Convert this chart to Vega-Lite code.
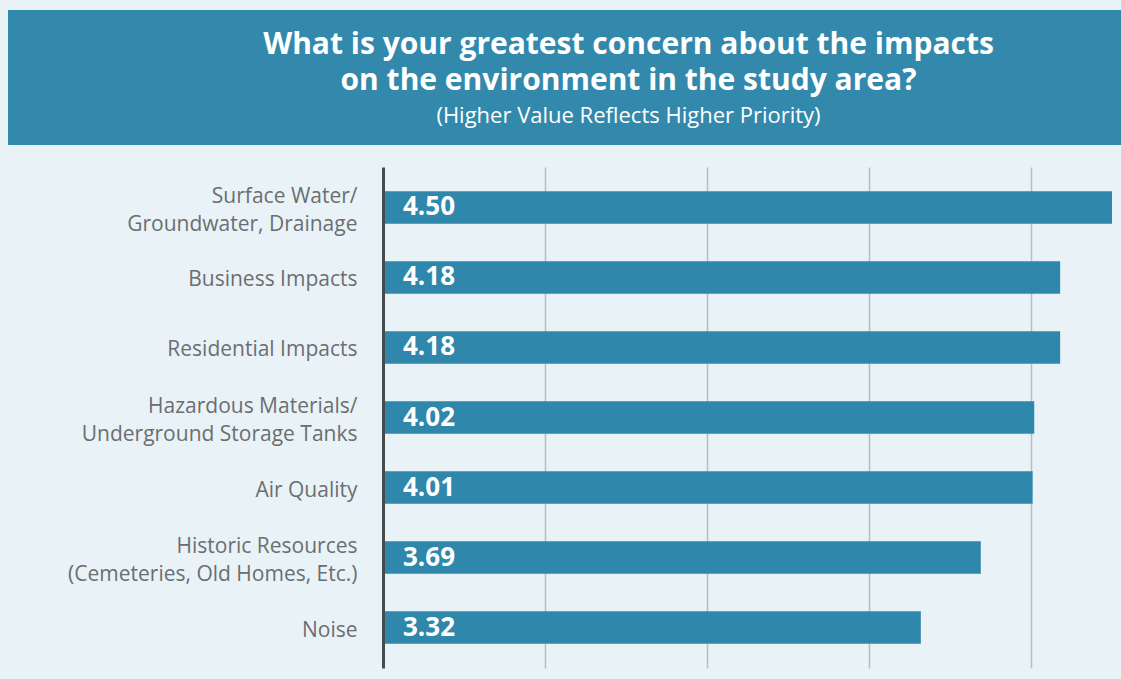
{
  "$schema": "https://vega.github.io/schema/vega-lite/v6.json",
  "background": "#e9f3f7",
  "padding": {"left": 8, "top": 10, "right": 0, "bottom": 11},
  "spacing": 22,
  "config": {"font": "Open Sans", "view": {"stroke": null}},
  "vconcat": [
    {
      "width": 1113,
      "height": 135,
      "view": {"fill": "#3389ac", "stroke": null},
      "data": {"values": [
        {"line": 1, "kind": "title", "text": "What is your greatest concern about the impacts"},
        {"line": 2, "kind": "title", "text": "on the environment in the study area?"},
        {"line": 3, "kind": "subtitle", "text": "(Higher Value Reflects Higher Priority)"}
      ]},
      "encoding": {
        "y": {"field": "line", "type": "ordinal", "scale": {"type": "point", "range": [35, 106], "padding": 0}, "axis": null},
        "text": {"field": "text"}
      },
      "layer": [
        {"transform": [{"filter": "datum.kind == 'title'"}], "mark": {"type": "text", "color": "white", "fontSize": 30, "fontWeight": "bold", "dx": 64}},
        {"transform": [{"filter": "datum.kind == 'subtitle'"}], "mark": {"type": "text", "color": "white", "fontSize": 22, "dx": 64}}
      ]
    },
    {
      "width": 1104,
      "height": 501,
      "data": {"values": [
        {"item": "Surface Water/\nGroundwater, Drainage", "value": 4.50},
        {"item": "Business Impacts", "value": 4.18},
        {"item": "Residential Impacts", "value": 4.18},
        {"item": "Hazardous Materials/\nUnderground Storage Tanks", "value": 4.02},
        {"item": "Air Quality", "value": 4.01},
        {"item": "Historic Resources\n(Cemeteries, Old Homes, Etc.)", "value": 3.69},
        {"item": "Noise", "value": 3.32}
      ]},
      "encoding": {
        "y": {
          "field": "item", "type": "nominal", "sort": null,
          "scale": {"paddingInner": 0.536, "paddingOuter": 0.346},
          "axis": {
            "title": null, "labelExpr": "split(datum.label, '\\n')",
            "labelFontSize": 21, "labelColor": "#6b6e71", "labelPadding": 26,
            "labelOffset": {"condition": {"test": "indexof(datum.value, '\\n') >= 0", "value": -10.5}, "value": 3},
            "ticks": false, "domainColor": "#4a4a4a", "domainWidth": 3, "offset": -375,
            "labelLineHeight": 28, "labelLimit": 0, "zindex": 1
          }
        }
      },
      "layer": [
        {
          "mark": {"type": "bar", "color": "#2f88ab"},
          "encoding": {
            "x": {
              "field": "value", "type": "quantitative",
              "scale": {"domain": [0, 4.5], "nice": false, "range": [375, 1104]},
              "axis": {"title": null, "labels": false, "ticks": false, "domain": false, "grid": true, "values": [1, 2, 3, 4], "gridColor": "#b9bdc0", "gridWidth": 1.5}
            }
          }
        },
        {
          "mark": {"type": "text", "align": "left", "dx": 20, "color": "white", "fontSize": 26, "fontWeight": "bold"},
          "encoding": {
            "x": {"datum": 0},
            "text": {"field": "value", "format": ".2f"}
          }
        }
      ]
    }
  ]
}
